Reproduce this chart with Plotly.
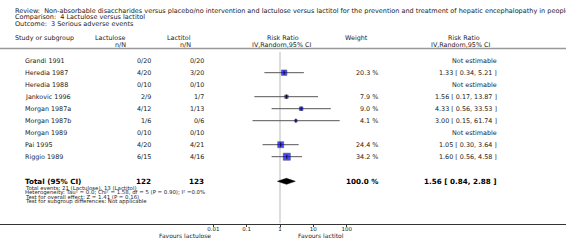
import plotly.graph_objects as go
import math

# ---------------- data ----------------
studies = ["Grandi 1991", "Heredia 1987", "Heredia 1988", "Jankovic 1996", "Morgan 1987a",
           "Morgan 1987b", "Morgan 1989", "Pai 1995", "Riggio 1989"]
lactulose_nN = ["0/20", "4/20", "0/10", "2/9", "4/12", "1/6", "0/10", "4/20", "6/15"]
lactitol_nN = ["0/20", "3/20", "0/10", "1/7", "1/13", "0/6", "0/10", "4/21", "4/16"]
weights = [None, 20.3, None, 7.9, 9.0, 4.1, None, 24.4, 34.2]
rr = [None, 1.33, None, 1.56, 4.33, 3.00, None, 1.05, 1.60]
rr_lo = [None, 0.34, None, 0.17, 0.56, 0.15, None, 0.30, 0.56]
rr_hi = [None, 5.21, None, 13.87, 33.53, 61.74, None, 3.64, 4.58]

total_lactulose = 122
total_lactitol = 123
total_weight = 100.0
total_rr, total_lo, total_hi = 1.56, 0.84, 2.88

tick_vals = [0.01, 0.1, 1, 10, 100]
tick_text = ["0.01", "0.1", "1", "10", "100"]

title_lines = [
    "Review:  Non-absorbable disaccharides versus placebo/no intervention and lactulose versus lactitol for the prevention and treatment of hepatic encephalopathy in people with cirrhosis",
    "Comparison:  4 Lactulose versus lactitol",
    "Outcome:  3 Serious adverse events",
]
footnotes = [
    "Total events: 21 (Lactulose), 13 (Lactitol)",
    "Heterogeneity: Tau² = 0.0; Chi² = 1.58, df = 5 (P = 0.90); I² =0.0%",
    "Test for overall effect: Z = 1.41 (P = 0.16)",
    "Test for subgroup differences: Not applicable",
]

# ---------------- layout helpers ----------------
W, H = 566, 241
FONT = "DejaVu Sans"
TXT = "#222222"
ROW0_PX, ROW_PX = 60.7, 12.0
X1_PX, DEC_PX = 280.0, 33.33
AXIS_PX = 223.5
TOTAL_Y = 10.05


def px(x):
    return x / W


def py(y):
    return 1 - y / H


def row_of(ypx):
    return (ypx - ROW0_PX) / ROW_PX


fig = go.Figure()

# null line
fig.add_trace(go.Scatter(x=[1, 1], y=[row_of(52), row_of(AXIS_PX)], mode="lines",
                         line=dict(color="#dddddd", width=2), hoverinfo="skip", showlegend=False))

# CI lines
cx, cy = [], []
for i, (lo, hi) in enumerate(zip(rr_lo, rr_hi)):
    if lo is None:
        continue
    cx += [lo, hi, None]
    cy += [i, i, None]
fig.add_trace(go.Scatter(x=cx, y=cy, mode="lines", line=dict(color="#555555", width=1),
                         hoverinfo="skip", showlegend=False))

# squares
mx, my, ms = [], [], []
for i, (r, w) in enumerate(zip(rr, weights)):
    if r is None:
        continue
    mx.append(r)
    my.append(i)
    ms.append(1.2 * math.sqrt(w))
fig.add_trace(go.Scatter(x=mx, y=my, mode="markers",
                         marker=dict(symbol="square", size=ms, color="#0000ff",
                                     line=dict(color="#000044", width=0.6)),
                         hoverinfo="skip", showlegend=False))
fig.add_trace(go.Scatter(x=mx, y=my, mode="markers",
                         marker=dict(symbol="line-ns", size=3, line=dict(color="#111111", width=1)),
                         hoverinfo="skip", showlegend=False))

# diamond
h = 0.25
fig.add_trace(go.Scatter(x=[total_lo, total_rr, total_hi, total_rr, total_lo],
                         y=[TOTAL_Y, TOTAL_Y - h, TOTAL_Y, TOTAL_Y + h, TOTAL_Y],
                         mode="lines", fill="toself", fillcolor="#000000",
                         line=dict(color="#000000", width=0.5), hoverinfo="skip", showlegend=False))

ann = []


def A(text, x, y, xanchor="left", size=6.4, yref="y", bold=False, color=TXT):
    ann.append(dict(text=f"<b>{text}</b>" if bold else text, x=px(x), xref="paper", y=y, yref=yref,
                    xanchor=xanchor, yanchor="middle", showarrow=False,
                    font=dict(family=FONT, size=size, color=color)))


# titles
for k, t in enumerate(title_lines):
    A(t, 13, py(10.8 + 6.4 * k), size=6.5, yref="paper")

# headers
A("Study or subgroup", 13, py(37.5), yref="paper")
A("Lactulose", 128, py(37.5), "right", yref="paper")
A("n/N", 128, py(45), "right", yref="paper")
A("Lactitol", 193, py(37.5), "right", yref="paper")
A("n/N", 193, py(45), "right", yref="paper")
A("Risk Ratio", 283, py(37.5), "center", yref="paper")
A("IV,Random,95% CI", 281, py(45), "center", yref="paper")
A("Weight", 356, py(37.5), "center", yref="paper")
A("Risk Ratio", 464, py(37.5), "center", yref="paper")
A("IV,Random,95% CI", 460, py(45), "center", yref="paper")

# study rows
for i, s in enumerate(studies):
    A(s, 23, i)
    A(lactulose_nN[i], 153, i, "right")
    A(lactitol_nN[i], 206, i, "right")
    if weights[i] is not None:
        A(f"{weights[i]:.1f} %", 380, i, "right")
    if rr[i] is None:
        A("Not estimable", 499, i, "right")
    else:
        A(f"{rr[i]:.2f} [ {rr_lo[i]:.2f}, {rr_hi[i]:.2f} ]", 499, i, "right")

# total row
A("Total (95% CI)", 23, TOTAL_Y, size=7.2, bold=True, color="#000000")
A(str(total_lactulose), 153, TOTAL_Y, "right", size=7.2, bold=True, color="#000000")
A(str(total_lactitol), 206, TOTAL_Y, "right", size=7.2, bold=True, color="#000000")
A(f"{total_weight:.1f} %", 380, TOTAL_Y, "right", size=7.2, bold=True, color="#000000")
A(f"{total_rr:.2f} [ {total_lo:.2f}, {total_hi:.2f} ]", 499, TOTAL_Y, "right", size=7.2, bold=True,
  color="#000000")

for k, t in enumerate(footnotes):
    A(t, 23, py(187.6 + 4.7 * k), size=5.4, yref="paper")

A("Favours lactulose", 213, py(235.5), "right", size=6.0, yref="paper")
A("Favours lactitol", 296, py(235.5), "left", size=6.0, yref="paper")

fig.update_layout(
    width=W, height=H, margin=dict(l=0, r=0, t=0, b=0, autoexpand=False),
    paper_bgcolor="white", plot_bgcolor="white",
    annotations=ann,
    shapes=[dict(type="line", xref="paper", yref="paper", x0=0, x1=1, y0=py(48.5), y1=py(48.5),
                 line=dict(color="#999999", width=1.5))],
    xaxis=dict(type="log", range=[-X1_PX / DEC_PX, (W - X1_PX) / DEC_PX], domain=[0, 1],
               showline=True, linecolor="#333333", linewidth=1, showgrid=False, zeroline=False,
               tickmode="array", tickvals=tick_vals, ticktext=tick_text,
               ticks="outside", ticklen=2, tickcolor="#333333", tickwidth=1,
               ticklabelstandoff=-2,
               tickfont=dict(family=FONT, size=5.5, color=TXT), automargin=False),
    yaxis=dict(domain=[1 - AXIS_PX / H, 1], range=[row_of(AXIS_PX), row_of(0)],
               visible=False, showgrid=False, zeroline=False),
)

fig.write_html("out.html", config={"displayModeBar": False},
               post_script="document.body.style.margin='0';")
